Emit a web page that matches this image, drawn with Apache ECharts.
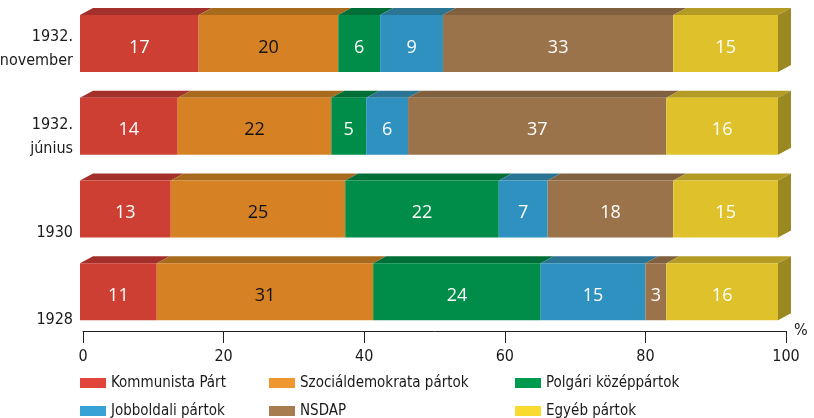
<!DOCTYPE html>
<html>
<head>
<meta charset="utf-8">
<script src="https://cdn.jsdelivr.net/npm/echarts@6/dist/echarts.min.js"></script>
<style>
html,body{margin:0;padding:0;background:#fff}
#main{width:814px;height:418px}
</style>
</head>
<body>
<div id="main"></div>
<script>
// rows, top to bottom
var categories = ['1932.\nnovember', '1932.\njúnius', '1930', '1928'];
var parties = ['Kommunista Párt', 'Szociáldemokrata pártok', 'Polgári középpártok', 'Jobboldali pártok', 'NSDAP', 'Egyéb pártok'];
var kommunista = [17, 14, 13, 11];
var szocdem = [20, 22, 25, 31];
var polgari = [6, 5, 22, 24];
var jobboldali = [9, 6, 7, 15];
var nsdap = [33, 37, 18, 3];
var egyeb = [15, 16, 15, 16];
var xTicks = [0, 20, 40, 60, 80, 100];

var values = [kommunista, szocdem, polgari, jobboldali, nsdap, egyeb];
var frontColors = ['#cd3e33', '#d68224', '#008d49', '#2f91bf', '#9b734b', '#dfc22b'];
var topColors = ['#a3302a', '#a86b1e', '#006f37', '#2b7594', '#80603f', '#b39b24'];
var sideColor = '#9a8820';
var legendColors = ['#e2453c', '#f0962e', '#009a4f', '#36a2d6', '#a77c4f', '#f9da2f'];
var labelColors = ['#fff', '#111', '#fff', '#fff', '#fff', '#fff'];
var spacer = [11, 21, 47, 57];
var NARROW = "'DejaVu Sans Condensed', 'Liberation Sans Narrow', 'Liberation Sans', sans-serif";

var BAR_H = 57, DX = 13, DY = 7;

function makeRender(k)
{
	return function (params, api) {
		var cat = api.value(2);
		var p0 = api.coord([api.value(0), cat]);
		var p1 = api.coord([api.value(1), cat]);
		var x0 = p0[0], x1 = p1[0];
		var yt = p0[1] - BAR_H / 2, yb = p0[1] + BAR_H / 2;
		var children = [];
		children.push({
			type: 'polygon',
			shape: {points: [[x0, yt], [x1, yt], [x1 + DX, yt - DY], [x0 + DX, yt - DY]]},
			style: {fill: topColors[k]}
		});
		children.push({
			type: 'rect',
			shape: {x: x0, y: yt, width: x1 - x0, height: BAR_H},
			style: {fill: frontColors[k]}
		});
		if (k == values.length - 1) {
			children.push({
				type: 'polygon',
				shape: {points: [[x1, yt], [x1 + DX, yt - DY], [x1 + DX, yb - DY], [x1, yb]]},
				style: {fill: sideColor}
			});
		}
		children.push({
			type: 'text',
			style: {
				text: String(api.value(3)),
				x: (x0 + x1) / 2,
				y: p0[1] + 4,
				align: 'center',
				verticalAlign: 'middle',
				fill: labelColors[k],
				fontSize: 18,
				fontFamily: 'Open Sans'
			}
		});
		return {type: 'group', children: children};
	};
}

var series = [];
for (var k = 0; k < values.length; k++)
{
	var data = [];
	for (var i = 0; i < categories.length; i++)
	{
		var start = 0;
		for (var j = 0; j < k; j++) start += values[j][i];
		data.push([start, start + values[k][i], i, values[k][i]]);
	}
	series.push({
		name: parties[k],
		type: 'custom',
		xAxisIndex: 0,
		yAxisIndex: 0,
		renderItem: makeRender(k),
		encode: {x: [0, 1], y: 2},
		itemStyle: {color: legendColors[k]},
		data: data
	});
}

var rich = {t: {fontSize: 16, lineHeight: 24, color: '#1a1a1a', fontFamily: NARROW}};
for (var i = 0; i < spacer.length; i++) rich['s' + i] = {fontSize: 1, lineHeight: spacer[i]};

// one legend per item, so the 3x2 layout is exact
var legendPos = [[80, 373], [269, 373], [515, 373], [80, 401], [269, 401], [515, 401]];
var legends = [];
for (var k = 0; k < parties.length; k++)
{
	legends.push({
		left: legendPos[k][0],
		top: legendPos[k][1],
		padding: 0,
		itemWidth: 26,
		itemHeight: 10,
		icon: 'rect',
		selectedMode: false,
		textStyle: {fontSize: 15, lineHeight: 20, color: '#1a1a1a', fontFamily: NARROW},
		data: [{name: parties[k], itemStyle: {color: legendColors[k]}}]
	});
}

var option = {
	animation: false,
	grid: [
		{left: 80, right: 36, top: 2, bottom: 85, outerBoundsMode: 'none', containLabel: false},
		{left: 83, right: 28, top: 2, bottom: 87, outerBoundsMode: 'none', containLabel: false}
	],
	xAxis: [
		{type: 'value', gridIndex: 0, min: 0, max: 100, show: false},
		{
			type: 'value', gridIndex: 1, min: xTicks[0], max: xTicks[xTicks.length - 1], interval: 20,
			name: '%', nameLocation: 'end', nameGap: 8,
			nameTextStyle: {fontSize: 16, color: '#1a1a1a', fontFamily: NARROW, verticalAlign: 'middle'},
			axisLine: {lineStyle: {color: '#222', width: 1}},
			axisTick: {length: 12, lineStyle: {color: '#222'}},
			axisLabel: {fontSize: 16, color: '#1a1a1a', margin: 18, fontFamily: NARROW},
			splitLine: {show: false}
		}
	],
	yAxis: [
		{
			type: 'category', gridIndex: 0, inverse: true, data: categories,
			axisLine: {show: false},
			axisTick: {show: false},
			axisLabel: {
				margin: 7,
				formatter: function (value, index) {
					var lines = value.split('\n');
					return '{s' + index + '| }\n' + lines.map(function (l) { return '{t|' + l + '}'; }).join('\n');
				},
				rich: rich
			}
		},
		{type: 'value', gridIndex: 1, show: false}
	],
	legend: legends,
	series: series
};

var myChart = echarts.init(document.getElementById('main'));
myChart.setOption(option);
</script>
</body>
</html>
